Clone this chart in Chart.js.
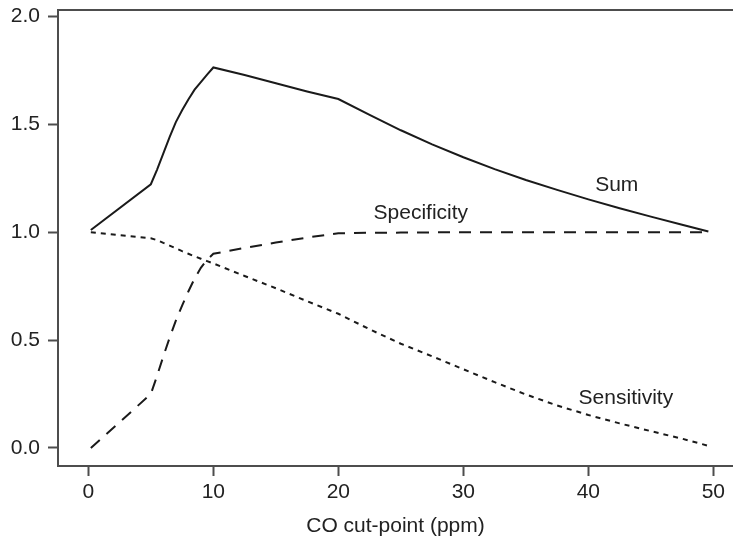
<!DOCTYPE html>
<html>
<head>
<meta charset="utf-8">
<script src="https://cdn.jsdelivr.net/npm/chart.js@4"></script>
<style>
  html, body { margin: 0; padding: 0; background: #ffffff; }
  #wrap { width: 733px; height: 539px; position: relative; }
</style>
</head>
<body>
<div id="wrap"><canvas id="c" width="733" height="539"></canvas></div>
<script>
// ---- Data ----
const cutPoints         = [0.2, 5, 5.5, 6, 6.5, 7, 7.5, 8, 8.5, 9, 9.5, 10, 12.5, 15, 17.5, 20,
                           22.5, 25, 27.5, 30, 32.5, 35, 37.5, 40, 42.5, 45, 47.5, 49.6];
const sumValues         = [1.01, 1.222, 1.29, 1.365, 1.44, 1.51, 1.565, 1.615, 1.66, 1.695, 1.73, 1.763, 1.728, 1.69, 1.652, 1.617,
                           1.543, 1.472, 1.407, 1.347, 1.292, 1.242, 1.196, 1.152, 1.111, 1.072, 1.034, 1.003];
const specificityValues = [0.0, 0.25, 0.335, 0.425, 0.51, 0.59, 0.66, 0.725, 0.785, 0.835, 0.872, 0.90, 0.927, 0.952, 0.975, 0.995,
                           0.997, 0.998, 0.999, 1.0, 1.0, 1.0, 1.0, 1.0, 1.0, 1.0, 1.0, 1.0];
const sensitivityValues = [1.0, 0.972, 0.963, 0.95, 0.938, 0.925, 0.912, 0.90, 0.888, 0.877, 0.866, 0.855, 0.797, 0.74, 0.68, 0.622,
                           0.55, 0.483, 0.425, 0.365, 0.305, 0.248, 0.197, 0.153, 0.114, 0.078, 0.043, 0.01];
const xTicks = [0, 10, 20, 30, 40, 50];
const yTicks = [0.0, 0.5, 1.0, 1.5, 2.0];
const xTitle = 'CO cut-point (ppm)';
// in-plot series labels: [text, x (ppm), y (value at text baseline)]
const seriesLabels = [
  ['Sum', 42.27, 1.192],
  ['Specificity', 26.6, 1.061],
  ['Sensitivity', 43.0, 0.204]
];

const FONT = "'Liberation Sans', Arial, Helvetica, sans-serif";
const AXIS = '#4d4d4d';
const INK = '#1a1a1a';
const TXT = '#222222';

const toPts = (ys) => cutPoints.map((x, i) => ({ x: x, y: ys[i] }));

const framePlugin = {
  id: 'frame',
  afterDraw(chart) {
    const { ctx, chartArea } = chart;
    ctx.save();
    ctx.strokeStyle = AXIS;
    ctx.lineWidth = 2;
    ctx.beginPath();
    ctx.moveTo(chartArea.left - 1, chartArea.top);
    ctx.lineTo(chartArea.right, chartArea.top);
    ctx.stroke();
    ctx.restore();
  }
};

const labelPlugin = {
  id: 'seriesText',
  afterDatasetsDraw(chart) {
    const { ctx } = chart;
    const xs = chart.scales.x, ys = chart.scales.y;
    ctx.save();
    ctx.fillStyle = TXT;
    ctx.font = '21px ' + FONT;
    ctx.textAlign = 'center';
    ctx.textBaseline = 'alphabetic';
    seriesLabels.forEach(([t, x, y]) => {
      ctx.fillText(t, xs.getPixelForValue(x), ys.getPixelForValue(y));
    });
    ctx.restore();
  }
};

const ctx = document.getElementById('c').getContext('2d');
new Chart(ctx, {
  type: 'line',
  data: {
    datasets: [
      { label: 'Sum', data: toPts(sumValues), borderColor: INK, borderWidth: 2,
        pointRadius: 0, tension: 0, fill: false },
      { label: 'Specificity', data: toPts(specificityValues), borderColor: INK, borderWidth: 2,
        borderDash: [12, 9], pointRadius: 0, tension: 0, fill: false },
      { label: 'Sensitivity', data: toPts(sensitivityValues), borderColor: INK, borderWidth: 2,
        borderDash: [5, 5], pointRadius: 0, tension: 0, fill: false }
    ]
  },
  options: {
    responsive: false,
    animation: false,
    devicePixelRatio: 1,
    layout: { padding: { top: 10, left: 0, right: 0, bottom: 0 } },
    plugins: { legend: { display: false }, tooltip: { enabled: false } },
    scales: {
      x: {
        type: 'linear',
        min: -2.427, max: 51.57,
        afterBuildTicks: (s) => { s.ticks = xTicks.map(v => ({ value: v })); },
        afterFit: (s) => { s.height = 73; s.paddingLeft = 0; s.paddingRight = 0; },
        border: { display: true, color: AXIS, width: 2 },
        grid: { display: true, drawOnChartArea: false, drawTicks: true, tickLength: 10,
                tickWidth: 2, tickColor: AXIS, color: AXIS },
        ticks: { color: TXT, font: { family: FONT, size: 21 }, padding: 4, maxRotation: 0,
                 autoSkip: false, callback: (v) => String(v) },
        title: { display: true, text: xTitle, color: TXT, font: { family: FONT, size: 21 },
                 padding: { top: 2, bottom: 0 } }
      },
      y: {
        type: 'linear',
        min: -0.0834, max: 2.0293,
        afterBuildTicks: (s) => { s.ticks = yTicks.map(v => ({ value: v })); },
        afterFit: (s) => { s.width = 58; s.paddingTop = 0; s.paddingBottom = 0; },
        border: { display: true, color: AXIS, width: 2 },
        grid: { display: true, drawOnChartArea: false, drawTicks: true, tickLength: 10,
                tickWidth: 2, tickColor: AXIS, color: AXIS },
        ticks: { color: TXT, font: { family: FONT, size: 21 }, padding: 8, autoSkip: false,
                 callback: (v) => Number(v).toFixed(1) }
      }
    }
  },
  plugins: [framePlugin, labelPlugin]
});
</script>
</body>
</html>
